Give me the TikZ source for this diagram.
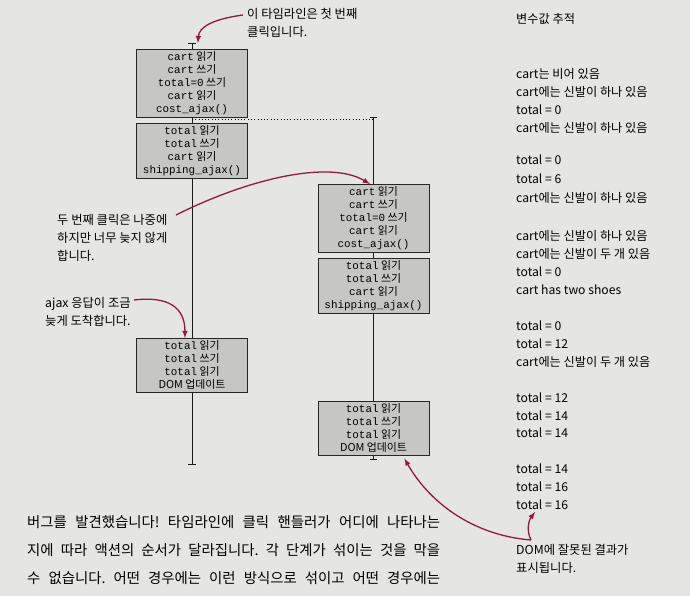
\documentclass[tikz,border=0pt]{standalone}
\usepackage{fontspec}
\setmainfont{Noto Sans CJK KR}
\newfontfamily\codefont{Liberation Mono}
\usetikzlibrary{arrows}
\definecolor{paper}{RGB}{229,229,226}
\definecolor{boxgray}{RGB}{198,198,195}
\definecolor{callred}{RGB}{150,22,62}
\newcommand{\cd}[1]{{\codefont #1}}
\frenchspacing
\tikzstyle{opbox} = [rectangle, draw=black!85, fill=boxgray, line width=0.7pt, minimum width=3.33cm, inner sep=2.2pt, align=center, anchor=north, font=\fontsize{9.3}{11}\selectfont]
\tikzstyle{timeline} = [line width=0.6pt, draw=black!90]
\tikzstyle{note} = [anchor=north west, align=left, inner sep=0pt, font=\fontsize{10.5}{15.5}\selectfont]
\tikzstyle{trace} = [anchor=west, inner sep=0pt, font=\fontsize{10.4}{11}\selectfont]
\tikzstyle{callout} = [line width=1.1pt, draw=callred, ->, >=latex]
\tikzstyle{para} = [anchor=west, inner sep=0pt, font=\fontsize{12.3}{14}\selectfont]

\begin{document}
\begin{tikzpicture}[x=0.03cm, y=-0.03cm]
        \fill[paper] (0,0) rectangle (690,596);

        % first click timeline
        \node (b1) [opbox] at (192,49) {\cd{cart} 읽기\\ \cd{cart} 쓰기\\ \cd{total=0} 쓰기\\ \cd{cart} 읽기\\ \cd{cost\_ajax()}};
        \node (b2) [opbox] at (192,123) {\cd{total} 읽기\\ \cd{total} 쓰기\\ \cd{cart} 읽기\\ \cd{shipping\_ajax()}};
        \node (b3) [opbox] at (192,338) {\cd{total} 읽기\\ \cd{total} 쓰기\\ \cd{total} 읽기\\ DOM 업데이트};
        \coordinate (topL) at (192,43);
        \coordinate (dotL) at (192,119);
        \coordinate (endL) at (192,465);

        % second click timeline
        \node (b4) [opbox] at (373.5,184) {\cd{cart} 읽기\\ \cd{cart} 쓰기\\ \cd{total=0} 쓰기\\ \cd{cart} 읽기\\ \cd{cost\_ajax()}};
        \node (b5) [opbox] at (373.5,258) {\cd{total} 읽기\\ \cd{total} 쓰기\\ \cd{cart} 읽기\\ \cd{shipping\_ajax()}};
        \node (b6) [opbox] at (373.5,401) {\cd{total} 읽기\\ \cd{total} 쓰기\\ \cd{total} 읽기\\ DOM 업데이트};
        \coordinate (topR) at (373.5,117);
        \coordinate (dotR) at (373.5,119);
        \coordinate (endR) at (373.5,460);

        \draw[timeline, |-] (topL) -- (b1);
        \draw[timeline] (b1) -- (b2);
        \draw[timeline] (b2) -- (b3);
        \draw[timeline, -|] (b3) -- (endL);
        \draw[timeline, |-] (topR) -- (b4);
        \draw[timeline] (b4) -- (b5);
        \draw[timeline] (b5) -- (b6);
        \draw[timeline, -|] (b6) -- (endR);
        \draw[dotted, line width=0.8pt] (dotL) -- (dotR);

        % notes
        \node (nFirst) [note] at (247,8) {이 타임라인은 첫 번째\\클릭입니다.};
        \node (nSecond) [note] at (57,214) {두 번째 클릭은 나중에\\하지만 너무 늦지 않게\\합니다.};
        \node (nAjax) [note] at (45,297) {ajax 응답이 조금\\늦게 도착합니다.};
        \node (nDom) [note] at (516,544) {DOM에 잘못된 결과가\\표시됩니다.};

        % variable trace
        \node (trTitle) [trace] at (516,19) {변수값 추적};
        \foreach \y/\txt [count=\i] in {74/cart는 비어 있음, 92/cart에는 신발이 하나 있음, 110/total = 0, 128/cart에는 신발이 하나 있음,
                160/total = 0, 179/total = 6, 198/cart에는 신발이 하나 있음,
                236/cart에는 신발이 하나 있음, 254/cart에는 신발이 두 개 있음, 272/total = 0, 290/cart has two shoes,
                326/total = 0, 344/total = 12, 362/cart에는 신발이 두 개 있음,
                398/total = 12, 416/total = 14, 433/total = 14,
                469/total = 14, 487/total = 16, 505/total = 16}
            \node (tr\i) [trace] at (516,\y) {\txt};

        % callouts
        \coordinate (aFirst) at (243,15);
        \coordinate (aSecond) at (176,215);
        \coordinate (aAjax) at (134,300);
        \coordinate (aDom) at (531,540);
        \coordinate (aTotal) at (535,512);
        \draw[callout] (aFirst) .. controls (213,19) and (199,27) .. ([xshift=5]topL);
        \draw[callout] (aSecond) .. controls (250,178) and (330,160) .. ([xshift=-3]b4.north);
        \draw[callout] (aAjax) .. controls (168,296) and (185,307) .. ([xshift=-6]b3.north);
        \draw[callout] (aDom) .. controls (470,535) and (428,500) .. ([shift={(-25,3)}]b6.south east);
        \draw[callout] (aDom) .. controls (526,530) and (529,520) .. (aTotal);

        % running text
        \node (p1) [para] at (27,522) {\makebox[12.39cm][s]{버그를 발견했습니다! 타임라인에 클릭 핸들러가 어디에 나타나는}};
        \node (p2) [para] at (27,550) {\makebox[12.39cm][s]{지에 따라 액션의 순서가 달라집니다. 각 단계가 섞이는 것을 막을}};
        \node (p3) [para] at (27,578) {\makebox[12.39cm][s]{수 없습니다. 어떤 경우에는 이런 방식으로 섞이고 어떤 경우에는}};
\end{tikzpicture}
\end{document}
